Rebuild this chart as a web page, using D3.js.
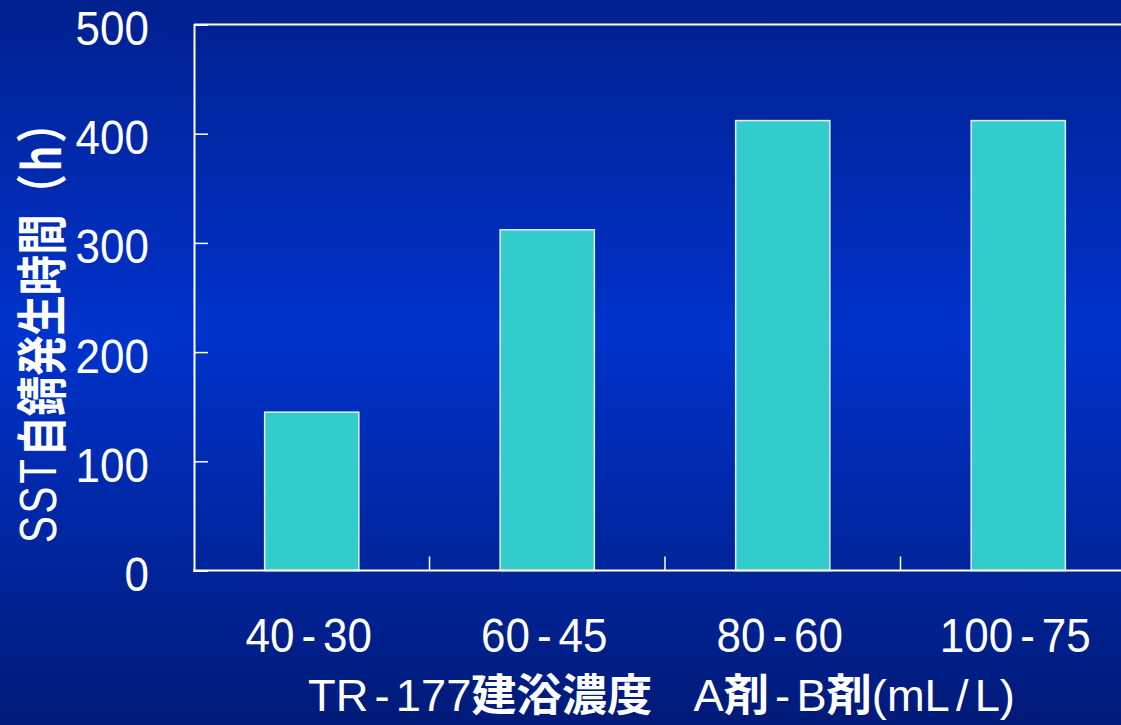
<!DOCTYPE html>
<html>
<head>
<meta charset="utf-8">
<script src="https://cdn.jsdelivr.net/npm/d3@7/dist/d3.min.js"></script>
<style>
  html, body { margin: 0; padding: 0; background: #0030c0; }
  svg { display: block; }
</style>
</head>
<body>
<svg id="chart" width="1121" height="725"></svg>
<script>
// ---- data ----
const categories = ["40-30", "60-45", "80-60", "100-75"];
const values = [145, 312, 412, 412];
const yTicks = [0, 100, 200, 300, 400, 500];
const yTitleParts = [
  { t: "SST", cjk: false },
  { t: "自錆発生時間", cjk: true },
  { t: "（h）", cjk: false, paren: true }
];
const xTitleParts = [
  { t: "TR", cjk: false },
  { t: "-", cjk: false, gap: true },
  { t: "177", cjk: false, gap: true },
  { t: "建浴濃度", cjk: true },
  { t: "A", cjk: false, wide: true },
  { t: "剤", cjk: true },
  { t: "-", cjk: false, gap: true },
  { t: "B", cjk: false, gap: true },
  { t: "剤", cjk: true },
  { t: "(mL", cjk: false },
  { t: "/", cjk: false, gap: true },
  { t: "L)", cjk: false, gap: true }
];

const W = 1121, H = 725;
const margin = { left: 194, top: 24.5, bottom: 570.5, right: 1136 };
const latin = "'Liberation Sans', Arial, sans-serif";
const cjkFont = "'Noto Sans CJK JP', 'Noto Sans CJK SC', sans-serif";

const svg = d3.select("#chart");
const defs = svg.append("defs");
const grad = defs.append("linearGradient").attr("id", "bg")
  .attr("x1", 0).attr("y1", 0).attr("x2", 0).attr("y2", 1);
grad.append("stop").attr("offset", "0%").attr("stop-color", "#00208e");
grad.append("stop").attr("offset", "46%").attr("stop-color", "#0033cc");
grad.append("stop").attr("offset", "100%").attr("stop-color", "#001a78");
svg.append("rect").attr("width", W).attr("height", H).attr("fill", "url(#bg)");

const x = d3.scaleBand().domain(categories)
  .range([margin.left, margin.right]).paddingInner(0.6).paddingOuter(0.3);
const y = d3.scaleLinear().domain([0, 500]).range([margin.bottom, margin.top]);

// bars
svg.append("g").selectAll("rect").data(values).join("rect")
  .attr("x", (d, i) => x(categories[i]))
  .attr("y", d => y(d))
  .attr("width", x.bandwidth())
  .attr("height", d => y(0) - y(d))
  .attr("fill", "#33cccc")
  .attr("stroke", "#e4ecf6")
  .attr("stroke-width", 1.5);

// top frame line
svg.append("line").attr("x1", margin.left).attr("x2", W + 20)
  .attr("y1", y(500)).attr("y2", y(500))
  .attr("stroke", "#fff").attr("stroke-width", 2);

// y axis
const yAxis = svg.append("g").attr("transform", `translate(${margin.left},0)`)
  .call(d3.axisLeft(y).tickValues(yTicks).tickSize(-14).tickPadding(45).tickFormat(d3.format("d")));
yAxis.select(".domain").attr("stroke", "#fff").attr("stroke-width", 2);
yAxis.selectAll(".tick line").attr("stroke", "#fff").attr("stroke-width", 1.5);
yAxis.selectAll(".tick text")
  .attr("fill", "#fff").attr("font-family", latin).attr("font-size", 44)
  .attr("y", 0).attr("dy", 0).attr("transform", "translate(0,20) scale(1,1.1)");

// x axis
const xAxis = svg.append("g").attr("transform", `translate(0,${margin.bottom})`)
  .call(d3.axisBottom(x).tickSize(0).tickPadding(0));
xAxis.select(".domain").remove();
xAxis.append("line").attr("x1", margin.left - 1).attr("x2", W + 20)
  .attr("stroke", "#fff").attr("stroke-width", 2);
xAxis.selectAll(".tick text").each(function(d) {
  const t = d3.select(this);
  const parts = d.split("-");
  t.text(null)
    .attr("fill", "#fff").attr("font-family", latin).attr("font-size", 44)
    .attr("y", 0).attr("dy", 0).attr("x", -3)
    .attr("transform", "translate(0,81.5) scale(1,1.1)");
  t.append("tspan").text(parts[0]);
  t.append("tspan").attr("dx", 7).text("-");
  t.append("tspan").attr("dx", 7).text(parts[1]);
});
// category boundary ticks (inward)
const bounds = categories.slice(1).map(c => x(c) - x.step() * x.paddingInner() / 2);
xAxis.selectAll(".bt").data(bounds).join("line").attr("class", "bt")
  .attr("x1", d => d).attr("x2", d => d).attr("y1", 0).attr("y2", -14)
  .attr("stroke", "#fff").attr("stroke-width", 1.5);

// y title
const yt = svg.append("g");
const ytText = yt.append("text").attr("fill", "#fff").attr("font-size", 46)
  .attr("text-anchor", "middle").attr("dominant-baseline", "central");
yTitleParts.forEach(p => {
  ytText.append("tspan").text(p.t)
    .attr("font-family", (p.cjk || p.paren) ? cjkFont : latin)
    .attr("font-weight", p.cjk ? "bold" : (p.paren ? "bold" : "normal"))
    .attr("letter-spacing", p.cjk ? 0 : 3);
});
{
  const w = ytText.node().getBBox().width;
  const target = 443;
  yt.attr("transform", `translate(38,321.5) rotate(-90) scale(${target / w},1.12)`);
}

// x title
const xt = svg.append("g");
const xtText = xt.append("text").attr("fill", "#fff").attr("font-size", 44)
  .attr("text-anchor", "middle");
xTitleParts.forEach(p => {
  xtText.append("tspan").text(p.t)
    .attr("dx", p.gap ? 6 : (p.wide ? 40 : 0))
    .attr("font-family", p.cjk ? cjkFont : latin)
    .attr("font-weight", p.cjk ? "bold" : "normal");
});
{
  const bb = xtText.node().getBBox();
  const target = 707;
  const s = target / bb.width;
  const cx = bb.x + bb.width / 2;
  xt.attr("transform", `translate(661.5,711) scale(${s},1) translate(${-cx},0)`);
}
</script>
</body>
</html>
